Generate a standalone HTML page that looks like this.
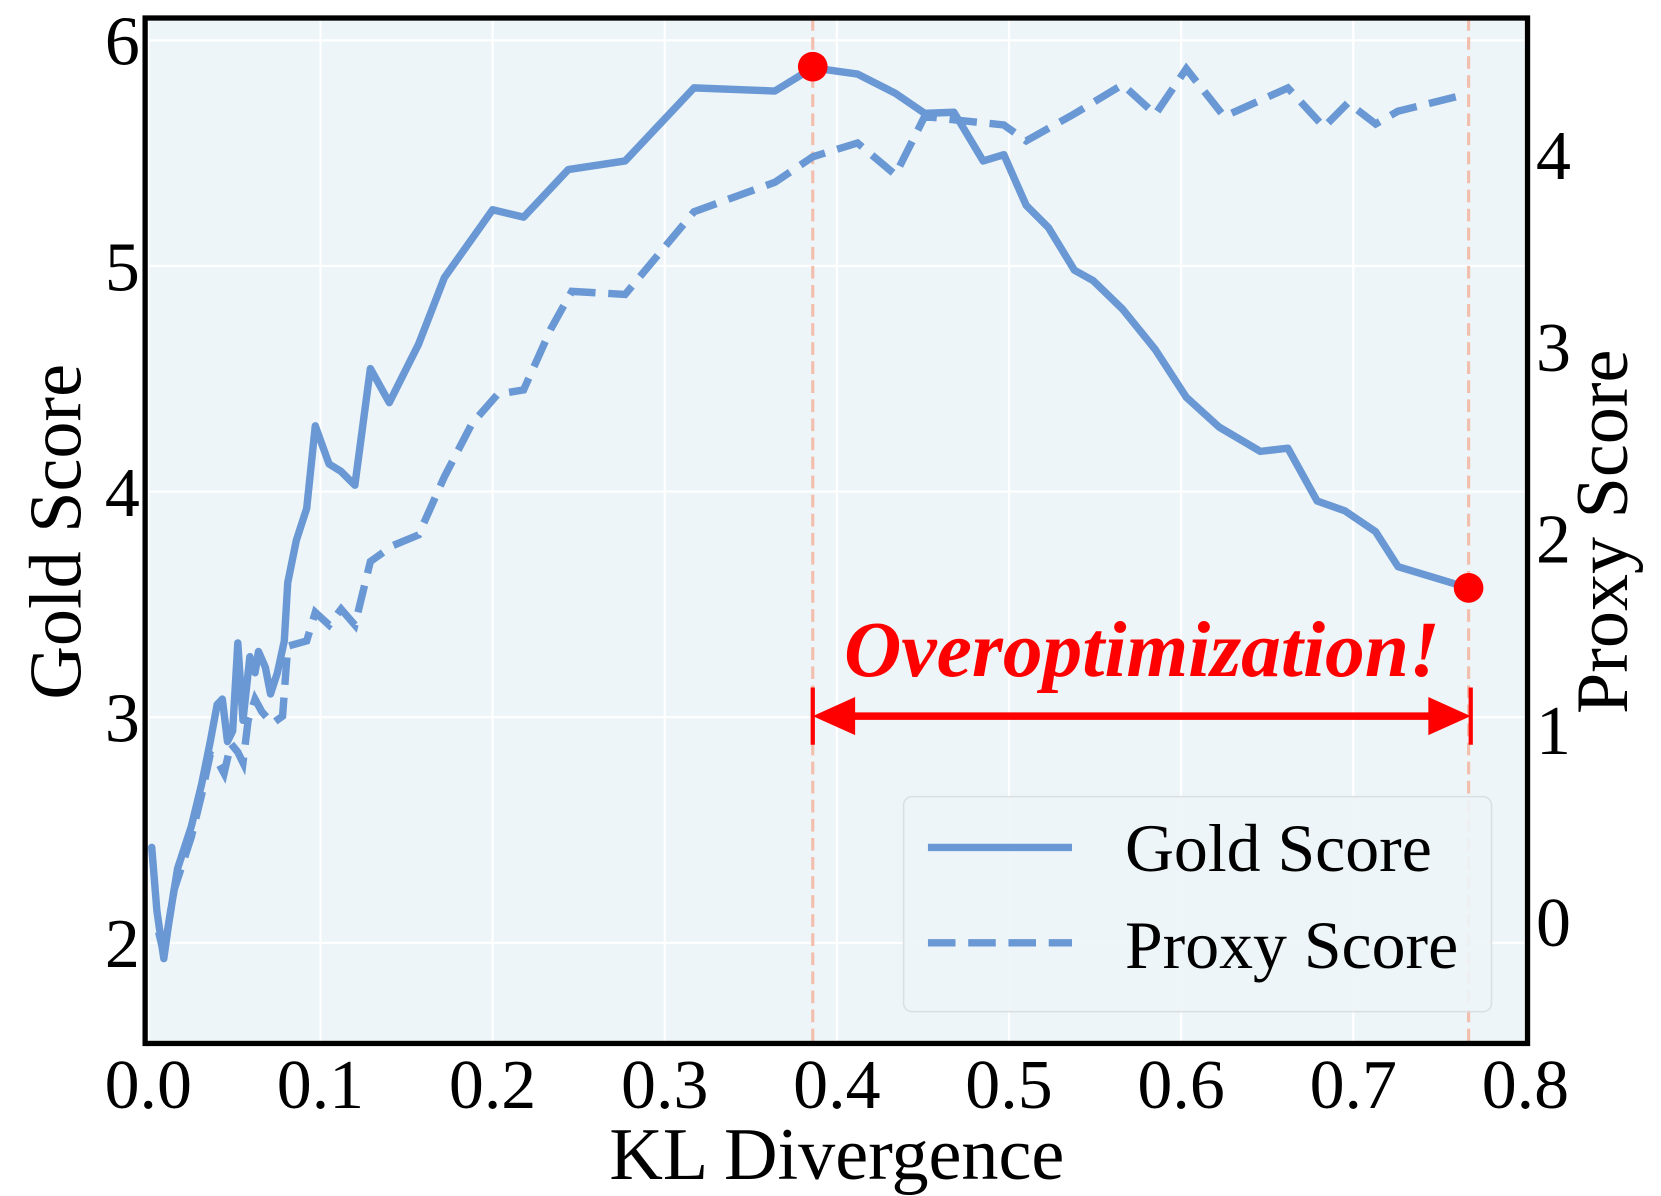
<!DOCTYPE html>
<html><head><meta charset="utf-8"><style>
html,body{margin:0;padding:0;background:#fff;}
svg{display:block;}
text{font-family:"Liberation Serif",serif;fill:#000;}
</style></head><body>
<svg id="chart" width="1661" height="1196" viewBox="0 0 1568 1129" preserveAspectRatio="none" xmlns="http://www.w3.org/2000/svg">
<rect x="137" y="17" width="1305" height="968" fill="#eef5f8"/>
<g id="grid"></g>
<g id="marks"></g>
<rect x="137" y="17" width="1305" height="968" fill="none" stroke="#000" stroke-width="5"/>
<g id="ticks"></g>
<text x="790" y="1113" font-size="70" text-anchor="middle">KL Divergence</text>
<text transform="translate(76,502) rotate(-90)" font-size="70" text-anchor="middle">Gold Score</text>
<text transform="translate(1536,502) rotate(-90)" font-size="70" text-anchor="middle">Proxy Score</text>
<text x="1078" y="638" font-size="75" font-weight="bold" font-style="italic" text-anchor="middle" style="fill:#ff0000">Overoptimization!</text>
<g>
<rect x="853" y="752" width="555" height="203" rx="8" fill="#eef5f8" stroke="#d8dde0" stroke-width="1.5" opacity="0.9"/>
<line x1="876" y1="800" x2="1012" y2="800" stroke="#6a98d4" stroke-width="7"/>
<text x="1062" y="822" font-size="64">Gold Score</text>
<line x1="876" y1="890" x2="1012" y2="890" stroke="#6a98d4" stroke-width="7" stroke-dasharray="26,12"/>
<text x="1062" y="914" font-size="64">Proxy Score</text>
</g>
</svg>
<script>
const goldX=[0.002,0.005,0.009,0.012,0.017,0.025,0.031,0.036,0.040,0.043,0.046,0.049,0.052,0.055,0.059,0.062,0.064,0.068,0.071,0.075,0.079,0.081,0.086,0.092,0.097,0.105,0.112,0.120,0.129,0.140,0.157,0.172,0.200,0.218,0.244,0.277,0.317,0.364,0.386,0.412,0.434,0.451,0.468,0.485,0.497,0.510,0.523,0.538,0.549,0.566,0.585,0.603,0.622,0.646,0.662,0.679,0.695,0.713,0.726,0.769];
const goldY=[2.423,2.141,1.930,2.094,2.329,2.516,2.704,2.892,3.056,3.080,2.892,2.939,3.329,2.986,3.268,3.197,3.291,3.221,3.103,3.197,3.338,3.596,3.784,3.925,4.291,4.122,4.089,4.028,4.545,4.394,4.653,4.948,5.249,5.216,5.427,5.465,5.789,5.775,5.878,5.850,5.765,5.676,5.681,5.465,5.493,5.268,5.169,4.981,4.934,4.808,4.629,4.418,4.286,4.178,4.192,3.958,3.915,3.822,3.667,3.568];
const proxyX=[0.006,0.009,0.015,0.025,0.031,0.036,0.040,0.044,0.048,0.052,0.055,0.058,0.062,0.066,0.072,0.078,0.081,0.092,0.097,0.105,0.112,0.120,0.129,0.142,0.157,0.172,0.188,0.203,0.218,0.234,0.246,0.277,0.317,0.364,0.386,0.412,0.434,0.451,0.468,0.497,0.510,0.538,0.566,0.585,0.603,0.625,0.662,0.683,0.697,0.713,0.726,0.763];
const proxyY=[-0.055,-0.166,0.166,0.442,0.663,0.873,0.840,0.773,0.928,0.884,0.829,1.050,1.160,1.094,1.033,1.072,1.436,1.464,1.613,1.547,1.630,1.547,1.878,1.961,2.017,2.320,2.597,2.751,2.773,3.094,3.287,3.271,3.702,3.856,3.989,4.061,3.895,4.199,4.182,4.155,4.072,4.213,4.365,4.210,4.448,4.199,4.348,4.144,4.271,4.160,4.227,4.309];
const xTicks=[0,0.1,0.2,0.3,0.4,0.5,0.6,0.7,0.8];
const goldTicks=[2,3,4,5,6];
const proxyTicks=[0,1,2,3,4];
const markerX=[0.386,0.767];
const markerY=[5.883,3.573];
const NS="http://www.w3.org/2000/svg";
const sx=v=>140+v*1625;
const sy=v=>38+(6-v)*213;
const sp=v=>870-v*181;
function mk(tag,attrs,parent){const e=document.createElementNS(NS,tag);for(const k in attrs)e.setAttribute(k,attrs[k]);parent.appendChild(e);return e;}
const grid=document.getElementById('grid'),marks=document.getElementById('marks'),ticks=document.getElementById('ticks');
xTicks.forEach(t=>{
 const l=mk('line',{x1:sx(t),x2:sx(t),y1:17,y2:985,stroke:'#fff','stroke-width':2},grid);
 
 
 const tx=mk('text',{x:sx(t),y:1046,'font-size':66,'text-anchor':'middle'},ticks);tx.textContent=t.toFixed(1);
 
 
});
goldTicks.forEach(t=>{
 const l=mk('line',{x1:137,x2:1442,y1:sy(t),y2:sy(t),stroke:'#fff','stroke-width':2},grid);
 
 
 const tx=mk('text',{x:132,y:sy(t)+23,'font-size':66,'text-anchor':'end'},ticks);tx.textContent=t;
 
 
});
proxyTicks.forEach(t=>{
 const tx=mk('text',{x:1450,y:sp(t)+23,'font-size':66},ticks);tx.textContent=t;
 
 
});
markerX.forEach(v=>{
 const l=mk('line',{x1:sx(v),x2:sx(v),y1:17,y2:985,stroke:'#f2bfae','stroke-width':3,'stroke-dasharray':'12,6'},marks);
 
 
});
const gp=mk('polyline',{points:goldX.map((x,i)=>sx(x)+','+sy(goldY[i])).join(' '),fill:'none',stroke:'#6a98d4','stroke-width':7,'stroke-linejoin':'round','stroke-linecap':'round'},marks);


const pp=mk('polyline',{points:proxyX.map((x,i)=>sx(x)+','+sp(proxyY[i])).join(' '),fill:'none',stroke:'#6a98d4','stroke-width':7,'stroke-dasharray':'26,12'},marks);


const ax1=sx(markerX[0]),ax2=sx(markerX[1])+2,ay=676;
const al=mk('line',{x1:ax1+30,x2:ax2-30,y1:ay,y2:ay,stroke:'#ff0000','stroke-width':7},marks);


const h1=mk('polygon',{points:`${ax1},${ay} ${ax1+40},${ay-18} ${ax1+40},${ay+18}`,fill:'#ff0000'},marks);


const h2=mk('polygon',{points:`${ax2},${ay} ${ax2-40},${ay-18} ${ax2-40},${ay+18}`,fill:'#ff0000'},marks);


[ax1,ax2].forEach(x=>{
 const b=mk('line',{x1:x,x2:x,y1:ay-27,y2:ay+27,stroke:'#ff0000','stroke-width':4},marks);
 
 
});
markerX.forEach((v,i)=>{
 const c=mk('circle',{cx:sx(v),cy:sy(markerY[i]),r:14,fill:'#ff0000'},marks);
 
 
});
</script>
</body></html>
